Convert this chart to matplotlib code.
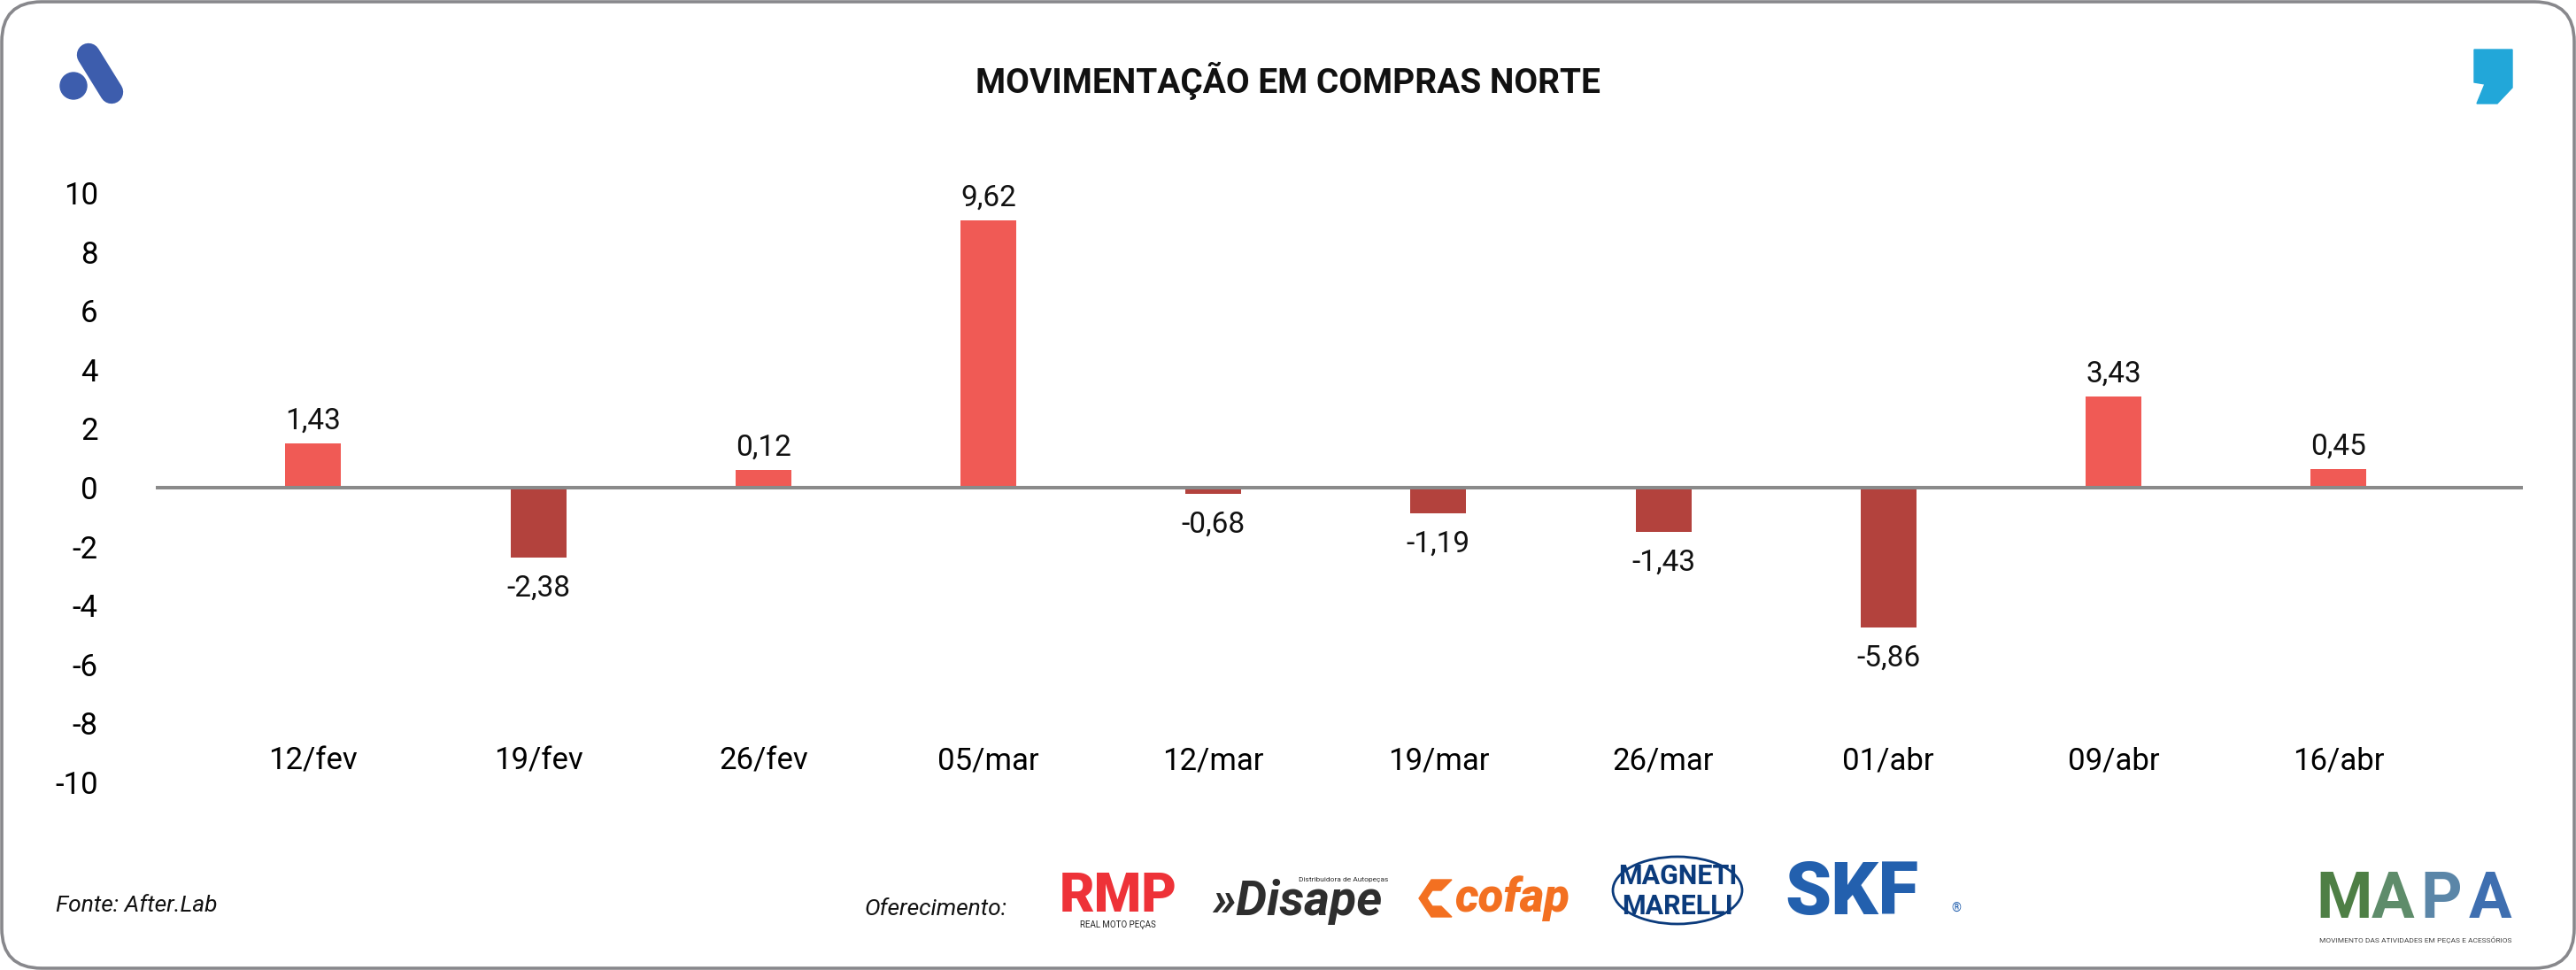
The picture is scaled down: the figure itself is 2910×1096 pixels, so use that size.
import matplotlib
matplotlib.use("Agg")
import matplotlib.pyplot as plt
from matplotlib import font_manager
from matplotlib.patches import FancyBboxPatch, Polygon, Circle, Ellipse
import numpy as np

names = {f.name for f in font_manager.fontManager.ttflist}
FONT = "Liberation Sans Narrow" if "Liberation Sans Narrow" in names else "Roboto"
plt.rcParams["font.family"] = [FONT, "DejaVu Sans"]

# data
semanas = ["12/fev", "19/fev", "26/fev", "05/mar", "12/mar",
           "19/mar", "26/mar", "01/abr", "09/abr", "16/abr"]
rotulos = [1.43, -2.38, 0.12, 9.62, -0.68, -1.19, -1.43, -5.86, 3.43, 0.45]
# bar heights as drawn in the picture
alturas = [1.5, -2.38, 0.6, 9.07, -0.22, -0.87, -1.5, -4.73, 3.1, 0.63]
yticks = [10, 8, 6, 4, 2, 0, -2, -4, -6, -8, -10]

W, H = 2910, 1096
fig = plt.figure(figsize=(W / 100, H / 100), dpi=100)

# main chart
ax = fig.add_axes([176 / W, 1 - 884 / H, 2674 / W, 666 / H])
x = np.arange(len(semanas))
cores = ["#F05A55" if v >= 0 else "#B3423D" for v in alturas]
ax.bar(x, alturas, width=0.248, color=cores, zorder=2)
ax.axhline(0, color="#8A8A8A", lw=2.9, zorder=3)
ax.set_xlim(-0.70, 9.82)
ax.set_ylim(-10, 10)
ax.set_yticks(yticks)
ax.set_yticklabels([str(t) for t in yticks], fontsize=25)
ax.set_xticks(x)
ax.set_xticklabels(semanas, fontsize=25)
ax.tick_params(axis="y", length=0, pad=47)
ax.tick_params(axis="x", length=0, pad=-29)
for s in ax.spines.values():
    s.set_visible(False)

for xi, h, r in zip(x, alturas, rotulos):
    txt = f"{r:.2f}".replace(".", ",")
    off = 18 if h >= 0 else -25
    ax.annotate(txt, (xi, h), xytext=(0, off), textcoords="offset points",
                ha="center", va="center", fontsize=24, color="#111111")

# background frame (pixel coords)
bg = fig.add_axes([0, 0, 1, 1], zorder=-1)
bg.set_xlim(0, W)
bg.set_ylim(H, 0)
bg.axis("off")
bg.add_patch(FancyBboxPatch((2, 2), W - 4, H - 4,
                            boxstyle="round,pad=0,rounding_size=45",
                            fc="white", ec="#88888C", lw=2.6))

top = fig.add_axes([0, 0, 1, 1], zorder=5)
top.set_xlim(0, W)
top.set_ylim(H, 0)
top.axis("off")

# title
top.text(1455, 91, "MOVIMENTAÇÃO EM COMPRAS NORTE", ha="center", va="center",
         fontsize=28, fontweight="bold", color="#111111")

# left logo
top.add_patch(Circle((83, 97), 15, color="#3D5DAD"))
top.plot([100, 126], [62, 104], color="#3D5DAD", lw=19, solid_capstyle="round")

# right comma
top.add_patch(Polygon([(2795, 56), (2838, 56), (2838, 99), (2821, 117),
                       (2798, 117), (2807, 95), (2795, 93)], closed=True,
                      color="#22A7D9"))

# footer
top.text(63, 1023, "Fonte: After.Lab", ha="left", va="center",
         fontsize=19, style="italic", color="#111111")
top.text(977, 1027, "Oferecimento:", ha="left", va="center",
         fontsize=19, style="italic", color="#111111")

# sponsor logos (text approximations)
top.text(1263, 1030, "RMP", ha="center", va="baseline", fontsize=44,
         fontweight="black", color="#EE3238")
top.text(1263, 1045, "REAL MOTO PEÇAS", ha="center", va="center", fontsize=7,
         color="#222222")
top.text(1369, 1034, "»Disape", ha="left", va="baseline", fontsize=40,
         fontweight="bold", style="italic", color="#2E2E2E")
top.text(1568, 994, "Distribuidora de Autopeças", ha="right", va="center",
         fontsize=6, color="#2E2E2E")
top.add_patch(Polygon([(1603, 1015), (1617, 994), (1640, 994), (1628, 1006),
                       (1618, 1006), (1612, 1015), (1618, 1024), (1628, 1024),
                       (1640, 1036), (1617, 1036)], closed=True, color="#F37021"))
top.text(1643, 1030, "cofap", ha="left", va="baseline", fontsize=38,
         fontweight="black", style="italic", color="#F37021")
top.add_patch(Ellipse((1895, 1006), 146, 76, fill=False, ec="#0B3B7C", lw=2))
top.text(1895, 990, "MAGNETI", ha="center", va="center", fontsize=22,
         fontweight="bold", color="#0B3B7C")
top.text(1895, 1024, "MARELLI", ha="center", va="center", fontsize=22,
         fontweight="bold", color="#0B3B7C")
top.text(2092, 1033, "SKF", ha="center", va="baseline", fontsize=60,
         fontweight="black", color="#2360AE")
top.text(2210, 1027, "®", ha="center", va="center", fontsize=10, color="#2360AE")

mapa_cores = ["#4E7F45", "#5E8C6A", "#5B86A8", "#3F6FB0"]
for i, (l, c) in enumerate(zip("MAPA", mapa_cores)):
    top.text(2648 + i * 55, 1037, l, ha="center", va="baseline", fontsize=52,
             fontweight="bold", color=c)
top.text(2729, 1062, "MOVIMENTO DAS ATIVIDADES EM PEÇAS E ACESSÓRIOS",
         ha="center", va="center", fontsize=6, color="#444444")

fig.savefig("out.png", dpi=100)
